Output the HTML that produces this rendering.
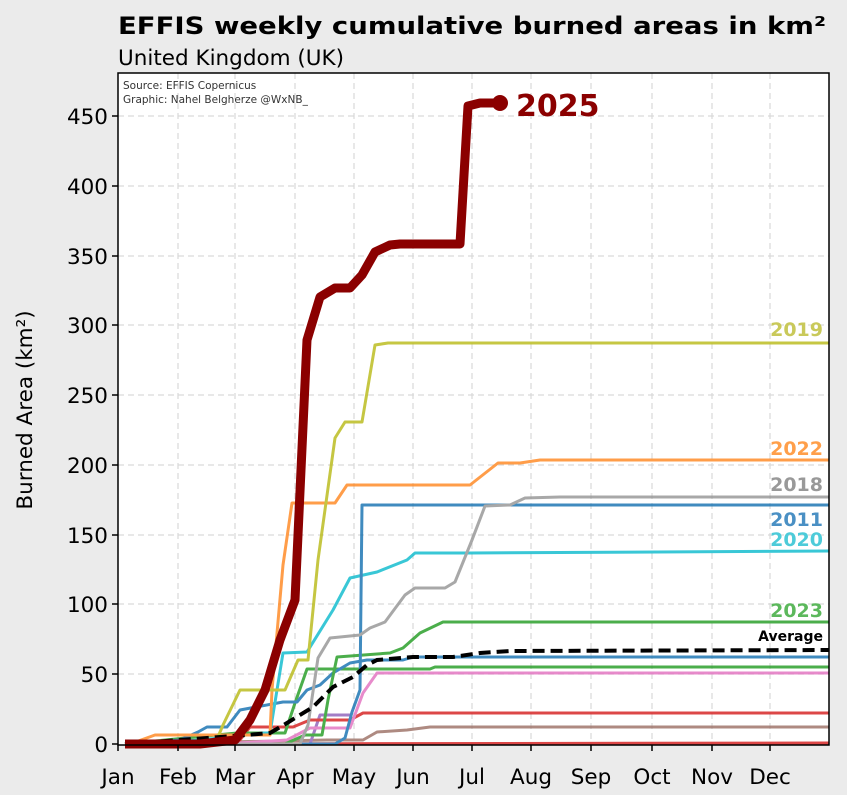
<!DOCTYPE html>
<html><head><meta charset="utf-8"><style>
html,body{margin:0;padding:0;background:#ebebeb;}
svg{display:block;font-family:"DejaVu Sans","Liberation Sans",sans-serif;}
</style></head><body>
<svg width="847" height="795" viewBox="0 0 847 795" xmlns="http://www.w3.org/2000/svg">
<rect width="847" height="795" fill="#ebebeb"/>
<text x="118" y="34" font-size="24" font-weight="bold" textLength="708" lengthAdjust="spacingAndGlyphs">EFFIS weekly cumulative burned areas in km²</text>
<text x="118" y="65" font-size="21.5">United Kingdom (UK)</text>
<rect x="118" y="73" width="711" height="672" fill="#fff"/>
<g stroke="#d9d9d9" stroke-width="1.2" stroke-dasharray="6,4">
<line x1="118" x2="829" y1="116" y2="116"/><line x1="118" x2="829" y1="186" y2="186"/><line x1="118" x2="829" y1="256" y2="256"/><line x1="118" x2="829" y1="325" y2="325"/><line x1="118" x2="829" y1="395" y2="395"/><line x1="118" x2="829" y1="465" y2="465"/><line x1="118" x2="829" y1="535" y2="535"/><line x1="118" x2="829" y1="604" y2="604"/><line x1="118" x2="829" y1="674" y2="674"/>
<line y1="73" y2="745" x1="178" x2="178"/><line y1="73" y2="745" x1="235" x2="235"/><line y1="73" y2="745" x1="295" x2="295"/><line y1="73" y2="745" x1="354" x2="354"/><line y1="73" y2="745" x1="413" x2="413"/><line y1="73" y2="745" x1="472" x2="472"/><line y1="73" y2="745" x1="531" x2="531"/><line y1="73" y2="745" x1="591" x2="591"/><line y1="73" y2="745" x1="652" x2="652"/><line y1="73" y2="745" x1="712" x2="712"/><line y1="73" y2="745" x1="770" x2="770"/>
</g>
<text x="123" y="89" font-size="10.5" fill="#333">Source: EFFIS Copernicus</text>
<text x="123" y="103" font-size="10.5" fill="#333">Graphic: Nahel Belgherze @WxNB_</text>
<g fill="none" stroke-width="3" stroke-linejoin="round" opacity="0.85">
<polyline stroke="#d62728" points="125,744 829,743"/>
<polyline stroke="#a0766c" points="125,744 327,740 363,740 377,732 407,730 430,727 829,727"/>
<polyline stroke="#9467bd" points="125,744 310,744 320,715 350,715"/>
<polyline stroke="#d62728" points="125,744 240,740 250,727 293,727 310,720 350,720 363,713 829,713"/>
<polyline stroke="#e377c2" points="125,744 240,743 287,740 310,728 350,728 363,693 377,673 829,673"/>
<polyline stroke="#2ca02c" points="125,744 237,733 285,733 295,703 307,669 430,669 435,667 829,667"/>
<polyline stroke="#1f77b4" points="125,744 180,740 198,732 207,727 227,727 240,710 283,702 297,702 307,690 320,685 333,673 350,663 367,660 403,660 413,657 829,657"/>
<polyline stroke="#2ca02c" points="125,744 285,744 305,735 322,735 328,700 337,657 390,653 403,648 420,633 443,622 829,622"/>
<polyline stroke="#17becf" points="125,744 200,740 265,733 270,733 283,653 307,652 333,610 350,578 377,572 407,560 415,553 470,553 829,551"/>
<polyline stroke="#1f77b4" points="125,744 335,744 345,738 352,712 360,690 362,505 829,505"/>
<polyline stroke="#999" points="125,744 300,744 308,725 318,658 330,638 360,635 370,628 385,622 405,595 415,588 445,588 455,582 472,540 485,506 510,505 525,498 560,497 829,497"/>
<polyline stroke="#ff8c2a" points="130,744 155,735 270,735 272,690 283,565 292,503 335,503 347,485 470,485 498,463 520,463 540,460 829,460"/>
<polyline stroke="#bcbd22" points="125,744 215,744 223,725 240,690 263,690 285,690 298,660 308,660 318,560 335,438 345,422 362,422 375,345 388,343 829,343"/>
</g>
<polyline fill="none" stroke="#000" stroke-width="4" stroke-dasharray="12,6" points="125,744 247,735 270,733 287,723 313,707 333,687 353,677 367,665 377,660 413,657 453,657 480,653 510,651 829,650"/>
<polyline fill="none" stroke="#8b0000" stroke-width="9" stroke-linejoin="round" points="125,744 200,744 235,740 250,720 265,690 280,640 295,600 307,340 320,297 335,288 350,288 362,275 375,252 390,245 400,244 460,244 468,106 480,103 500,103"/>
<circle cx="500" cy="103" r="8" fill="#8b0000"/>
<text x="516" y="116" font-size="30" font-weight="bold" fill="#8b0000">2025</text>
<g font-size="19" font-weight="bold" text-anchor="end">
<text x="823" y="336" fill="#c9c95a">2019</text>
<text x="823" y="455" fill="#ff9f4a">2022</text>
<text x="823" y="491" fill="#999">2018</text>
<text x="823" y="526" fill="#4a90c4">2011</text>
<text x="823" y="546" fill="#4dcbd9">2020</text>
<text x="823" y="617" fill="#5cb85c">2023</text>
<text x="823" y="641" font-size="14" fill="#000">Average</text>
</g>
<rect x="118" y="73" width="711" height="672" fill="none" stroke="#000" stroke-width="1.5"/>
<g stroke="#000" stroke-width="1.5">
<line x1="112" x2="118" y1="744" y2="744"/><line x1="112" x2="118" y1="674" y2="674"/><line x1="112" x2="118" y1="604" y2="604"/><line x1="112" x2="118" y1="535" y2="535"/><line x1="112" x2="118" y1="465" y2="465"/><line x1="112" x2="118" y1="395" y2="395"/><line x1="112" x2="118" y1="325" y2="325"/><line x1="112" x2="118" y1="256" y2="256"/><line x1="112" x2="118" y1="186" y2="186"/><line x1="112" x2="118" y1="116" y2="116"/>
<line y1="745" y2="751" x1="118" x2="118"/><line y1="745" y2="751" x1="178" x2="178"/><line y1="745" y2="751" x1="235" x2="235"/><line y1="745" y2="751" x1="295" x2="295"/><line y1="745" y2="751" x1="354" x2="354"/><line y1="745" y2="751" x1="413" x2="413"/><line y1="745" y2="751" x1="472" x2="472"/><line y1="745" y2="751" x1="531" x2="531"/><line y1="745" y2="751" x1="591" x2="591"/><line y1="745" y2="751" x1="652" x2="652"/><line y1="745" y2="751" x1="712" x2="712"/><line y1="745" y2="751" x1="770" x2="770"/>
</g>
<g font-size="21.5" text-anchor="end">
<text x="108" y="752">0</text><text x="108" y="682">50</text><text x="108" y="612">100</text><text x="108" y="543">150</text><text x="108" y="473">200</text><text x="108" y="403">250</text><text x="108" y="333">300</text><text x="108" y="264">350</text><text x="108" y="194">400</text><text x="108" y="124">450</text>
</g>
<g font-size="21.5" text-anchor="middle">
<text x="118" y="784">Jan</text><text x="178" y="784">Feb</text><text x="235" y="784">Mar</text><text x="295" y="784">Apr</text><text x="354" y="784">May</text><text x="413" y="784">Jun</text><text x="472" y="784">Jul</text><text x="531" y="784">Aug</text><text x="591" y="784">Sep</text><text x="652" y="784">Oct</text><text x="712" y="784">Nov</text><text x="770" y="784">Dec</text>
</g>
<text transform="translate(32,410) rotate(-90)" font-size="21.5" text-anchor="middle">Burned Area (km²)</text>
</svg>
</body></html>
